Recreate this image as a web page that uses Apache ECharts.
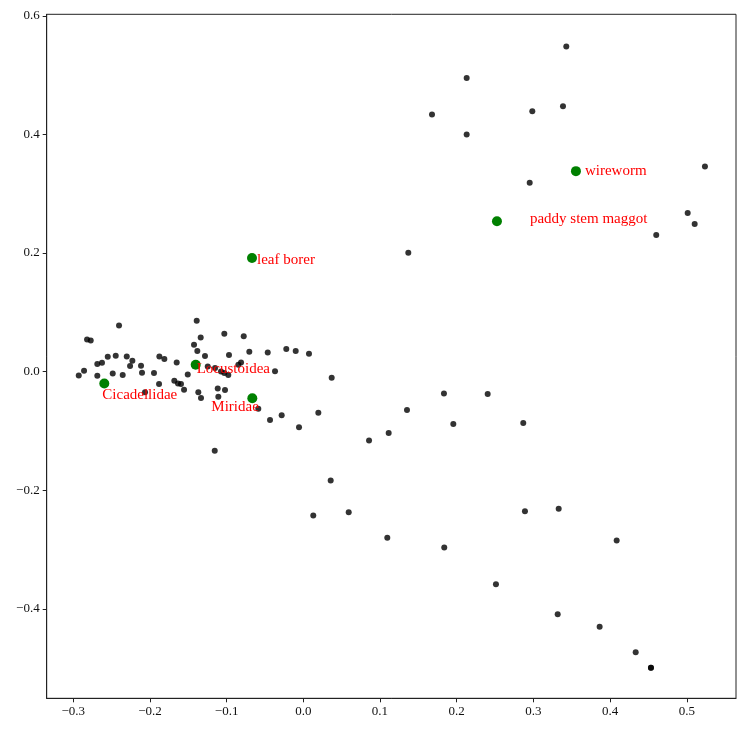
<!DOCTYPE html>
<html>
<head>
<meta charset="utf-8">
<script src="https://cdn.jsdelivr.net/npm/echarts@6/dist/echarts.min.js"></script>
<style>
  html, body { margin: 0; padding: 0; background: #fff; }
  #chart { width: 747px; height: 733px; }
</style>
</head>
<body>
<div id="chart"></div>
<script>
// all embedded points (x, y)
const pointsX = [
  -0.2403, -0.2820, -0.2772, -0.1390, -0.1338, -0.1425, -0.1382, -0.1282, -0.2550, -0.2446,
  -0.2302, -0.2229, -0.2259, -0.2686, -0.2625, -0.2859, -0.2928, -0.2686, -0.2485, -0.2355,
  -0.2116, -0.2103, -0.1947, -0.1877, -0.1812, -0.1651, -0.1881, -0.2064, -0.1682, -0.1634,
  -0.1595, -0.1555, -0.1507, -0.1369, -0.1334, -0.1030, -0.0777, -0.0969, -0.0704, -0.0464,
  -0.0222, -0.0099, 0.0074, -0.1246, -0.1151, -0.1073, -0.1030, -0.0978, -0.0812, -0.0847,
  -0.0369, -0.1116, -0.1021, -0.1108, -0.0587, -0.0282, -0.0434, 0.0196, -0.0056, -0.1155,
  0.0370, 0.0857, 0.1113, 0.1352, 0.1834, 0.2404, 0.1956, 0.2868, 0.0357, 0.0130,
  0.0592, 0.1095, 0.1838, 0.2890, 0.3330, 0.4086, 0.2512, 0.3317, 0.3864, 0.4334,
  0.4533, 0.4533, 0.3429, 0.2130, 0.1678, 0.2130, 0.2986, 0.3386, 0.5237, 0.2952,
  0.5012, 0.5103, 0.4602, 0.1369
];
const pointsY = [
  0.0779, 0.0543, 0.0527, 0.0858, 0.0577, 0.0454, 0.0348, 0.0264, 0.0252, 0.0269,
  0.0257, 0.0185, 0.0096, 0.0130, 0.0151, 0.0017, -0.0062, -0.0067, -0.0029, -0.0056,
  0.0101, -0.0017, -0.0022, 0.0257, 0.0214, 0.0156, -0.0207, -0.0348, -0.0151, -0.0197,
  -0.0207, -0.0303, -0.0045, -0.0348, -0.0442, 0.0639, 0.0600, 0.0281, 0.0336, 0.0325,
  0.0382, 0.0348, 0.0303, 0.0089, 0.0062, 0.0005, -0.0022, -0.0056, 0.0156, 0.0118,
  0.0008, -0.0281, -0.0308, -0.0421, -0.0626, -0.0732, -0.0812, -0.0693, -0.0937, -0.1334,
  -0.0101, -0.1161, -0.1031, -0.0644, -0.0365, -0.0375, -0.0880, -0.0863, -0.1833, -0.2422,
  -0.2367, -0.2797, -0.2965, -0.2350, -0.2309, -0.2843, -0.3583, -0.4087, -0.4301, -0.4727,
  -0.4991, -0.4991, 0.5484, 0.4950, 0.4335, 0.3998, 0.4390, 0.4474, 0.3460, 0.3184,
  0.2675, 0.2489, 0.2304, 0.2007
];

// highlighted insect groups
const pestNames = ['Cicadellidae', 'Locustoidea', 'Miridae', 'leaf borer', 'paddy stem maggot', 'wireworm'];
const pestX = [-0.2595, -0.1403, -0.0665, -0.0669, 0.2525, 0.3555];
const pestY = [-0.0197, 0.0118, -0.0446, 0.1918, 0.2535, 0.3381];

// label offsets in pixels from the marker centre
const labelOffsets = [[-2, 12], [1, 4], [-41, 9], [5, 2], [33, -2], [9, 0]];

const xTicks = [-0.3, -0.2, -0.1, 0.0, 0.1, 0.2, 0.3, 0.4, 0.5];
const yTicks = [-0.4, -0.2, 0.0, 0.2, 0.4, 0.6];

const fmt = v => (v < 0 ? '\u2212' : '') + Math.abs(v).toFixed(1);
const serif = 'Liberation Serif';

const chart = echarts.init(document.getElementById('chart'), null, { renderer: 'canvas' });

const axisCommon = {
  type: 'value',
  axisLine: { show: true, onZero: false, lineStyle: { color: '#222', width: 1 } },
  axisTick: { show: true, inside: false, length: 4, lineStyle: { color: '#222', width: 1 } },
  axisLabel: { color: '#111', fontFamily: serif, fontSize: 13, formatter: fmt },
  splitLine: { show: false }
};

chart.setOption({
  animation: false,
  backgroundColor: '#fff',
  grid: {
    left: 46.7, right: 11, top: 14.3, bottom: 34.7,
    show: true, borderColor: '#222', borderWidth: 1, backgroundColor: 'transparent'
  },
  xAxis: Object.assign({}, axisCommon, {
    min: -0.3346, max: 0.5642,
    axisTick: Object.assign({}, axisCommon.axisTick, { customValues: xTicks }),
    axisLabel: Object.assign({}, axisCommon.axisLabel, { customValues: xTicks, margin: 7 })
  }),
  yAxis: Object.assign({}, axisCommon, {
    min: -0.5505, max: 0.6025,
    axisTick: Object.assign({}, axisCommon.axisTick, { customValues: yTicks }),
    axisLabel: Object.assign({}, axisCommon.axisLabel, { customValues: yTicks, margin: 7 })
  }),
  series: [
    {
      type: 'scatter',
      symbolSize: 6,
      itemStyle: { color: 'rgba(0,0,0,0.8)', opacity: 1 },
      data: pointsX.map((x, i) => [x, pointsY[i]]),
      z: 2
    },
    {
      type: 'scatter',
      symbolSize: 10,
      itemStyle: { color: '#008000', opacity: 1 },
      data: pestNames.map((name, i) => ({
        name: name,
        value: [pestX[i], pestY[i]],
        label: {
          show: true,
          position: 'inside',
          align: 'left',
          verticalAlign: 'middle',
          offset: labelOffsets[i],
          formatter: name,
          color: '#ff0000',
          fontFamily: serif,
          fontSize: 15
        }
      })),
      z: 3
    }
  ]
});
</script>
</body>
</html>
